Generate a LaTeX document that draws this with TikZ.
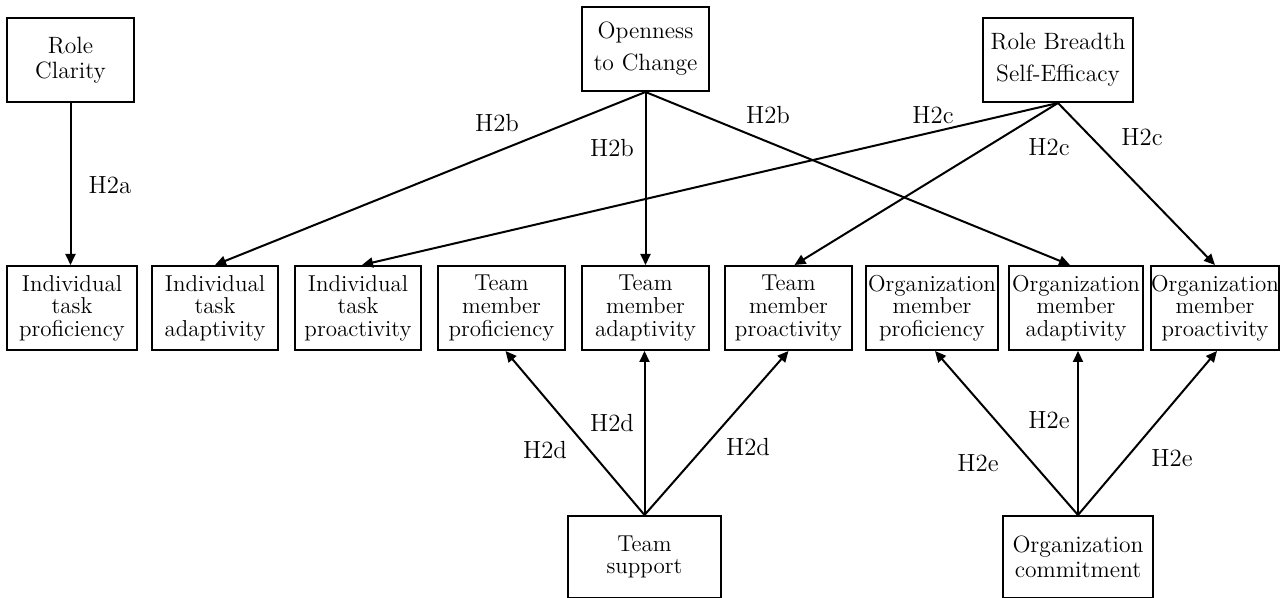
\documentclass[tikz,border=0pt]{standalone}
\usetikzlibrary{arrows.meta}
\begin{document}
\begin{tikzpicture}[x=0.5pt,y=-0.5pt,
  box/.style={draw, line width=1pt, inner sep=0pt, align=center, minimum height=42pt},
  toptxt/.style={font=\fontsize{11.8}{16}\selectfont},
  rowtxt/.style={font=\fontsize{11.5}{11.3}\selectfont},
  midtxt/.style={font=\fontsize{11.8}{12.5}\selectfont},
  lbl/.style={inner sep=0pt, font=\fontsize{12.4}{13}\selectfont},
  arr/.style={line width=1pt, -{Triangle[length=5.5pt,width=5pt]}}
]
\useasboundingbox (0,0) rectangle (1286,598);
\fill[white] (0,0) rectangle (1286,598);

% top row
\node[box, midtxt, minimum width=63.5pt] (rc) at (70.5,60) {Role\\Clarity};
\node[box, toptxt, minimum width=63.5pt] (oc) at (645.5,49) {Openness\\to Change};
\node[box, toptxt, minimum width=75pt] (rb) at (1058,60) {Role Breadth\\Self-Efficacy};

% middle row
\node[box, rowtxt, minimum width=65pt] (b1) at (72,308) {Individual\\task\\proficiency};
\node[box, rowtxt, minimum width=63pt] (b2) at (215,308) {Individual\\task\\adaptivity};
\node[box, rowtxt, minimum width=63pt] (b3) at (358,308) {Individual\\task\\proactivity};
\node[box, rowtxt, minimum width=63.5pt] (b4) at (501.5,308) {Team\\member\\proficiency};
\node[box, rowtxt, minimum width=63.5pt] (b5) at (645.5,308) {Team\\member\\adaptivity};
\node[box, rowtxt, minimum width=63.5pt] (b6) at (788.5,308) {Team\\member\\proactivity};
\node[box, rowtxt, minimum width=66pt] (b7) at (932,308) {Organization\\member\\proficiency};
\node[box, rowtxt, minimum width=67pt] (b8) at (1076,308) {Organization\\member\\adaptivity};
\node[box, rowtxt, minimum width=64pt] (b9) at (1215,308) {Organization\\member\\proactivity};

% bottom row
\node[box, rowtxt, minimum width=76.5pt, minimum height=41pt] (ts) at (644.5,557) {Team\\support};
\node[box, midtxt, minimum width=75pt, minimum height=41pt] (ocm) at (1078,557) {Organization\\commitment};

% arrows from top
\draw[arr] (rc.south) -- (rc.south |- b1.north);
\draw[arr] (oc.south) -- (b2.north);
\draw[arr] (oc.south) -- (b5.north);
\draw[arr] (oc.south) -- ([xshift=-3pt]b8.north);
\draw[arr] (rb.south) -- ([xshift=2pt]b3.north);
\draw[arr] (rb.south) -- ([xshift=3pt]b6.north);
\draw[arr] (rb.south) -- (b9.north);

% arrows from bottom
\draw[arr] (ts.north) -- ([xshift=2pt]b4.south);
\draw[arr] (ts.north) -- (ts.north |- b5.south);
\draw[arr] (ts.north) -- (b6.south);
\draw[arr] (ocm.north) -- ([xshift=1.5pt]b7.south);
\draw[arr] (ocm.north) -- (ocm.north |- b8.south);
\draw[arr] (ocm.north) -- ([xshift=1pt]b9.south);

% labels
\node[lbl] (la)  at (110,185) {H2a};
\node[lbl] (lb1) at (497,123) {H2b};
\node[lbl] (lb2) at (612,148) {H2b};
\node[lbl] (lb3) at (768,115) {H2b};
\node[lbl] (lc1) at (933,115) {H2c};
\node[lbl] (lc2) at (1049,147) {H2c};
\node[lbl] (lc3) at (1142,137) {H2c};
\node[lbl] (ld1) at (545,450) {H2d};
\node[lbl] (ld2) at (612,423) {H2d};
\node[lbl] (ld3) at (748,447) {H2d};
\node[lbl] (le1) at (978,463) {H2e};
\node[lbl] (le2) at (1049,420) {H2e};
\node[lbl] (le3) at (1172,458) {H2e};
\end{tikzpicture}
\end{document}
